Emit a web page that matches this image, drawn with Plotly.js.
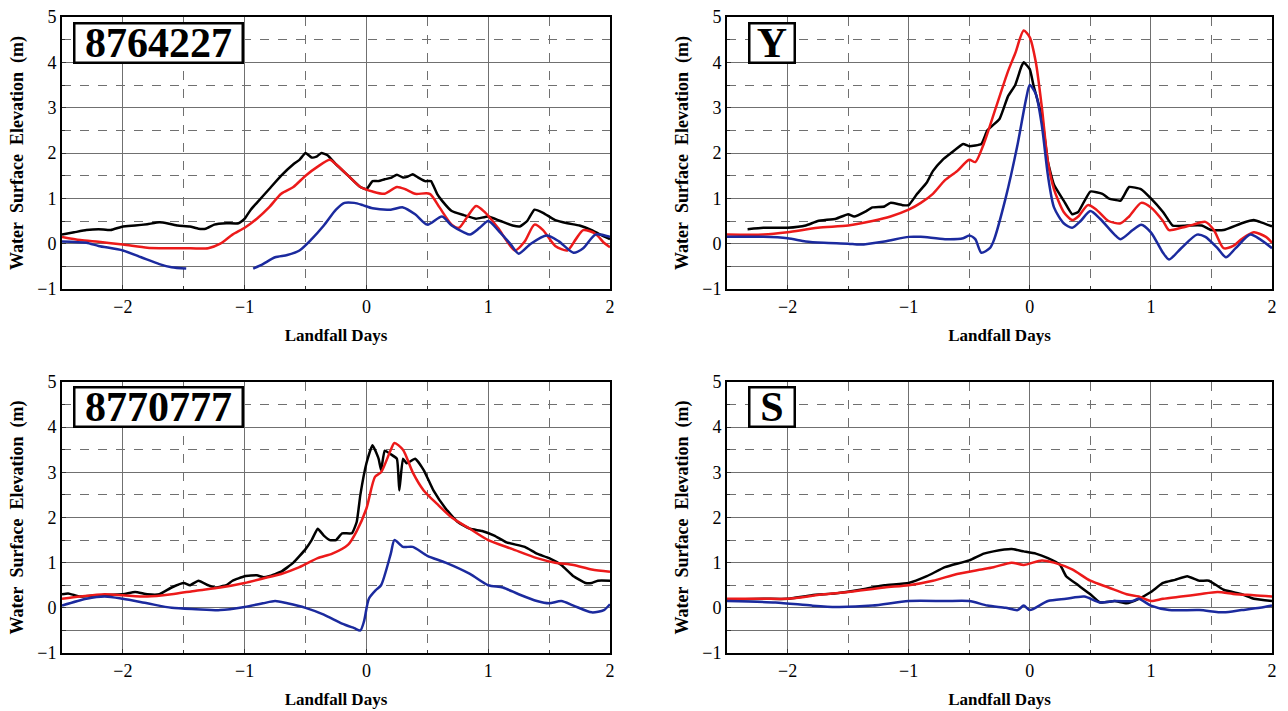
<!DOCTYPE html>
<html>
<head>
<meta charset="utf-8">
<script src="https://cdn.plot.ly/plotly-3.0.1.min.js"></script>
<style>html,body{margin:0;padding:0;background:#fff;}#chart{width:1288px;height:711px;}</style>
</head>
<body>
<div id="chart"></div>
<script>
// ---------- Panel labels ----------
const panelLabels = ["8764227", "Y", "8770777", "S"];

// ---------- Panel 1: 8764227 ----------
const p1BlackX = [-2.5,-2.4,-2.3,-2.2,-2.1,-2.0,-1.9,-1.8,-1.7,-1.62,-1.55,-1.45,-1.38,-1.32,-1.25,-1.15,-1.05,-1.0,-0.95,-0.9,-0.8,-0.7,-0.6,-0.55,-0.5,-0.45,-0.41,-0.37,-0.32,-0.25,-0.15,-0.05,0.0,0.05,0.1,0.15,0.2,0.25,0.3,0.34,0.38,0.43,0.48,0.53,0.58,0.62,0.7,0.8,0.9,1.0,1.1,1.2,1.26,1.32,1.38,1.45,1.55,1.65,1.75,1.85,1.92,2.0];
const p1Black  = [0.2,0.25,0.3,0.32,0.3,0.38,0.4,0.43,0.47,0.44,0.4,0.38,0.33,0.33,0.42,0.45,0.45,0.55,0.75,0.9,1.2,1.5,1.75,1.85,2.0,1.9,1.92,2.0,1.95,1.75,1.5,1.25,1.2,1.38,1.38,1.42,1.45,1.52,1.46,1.48,1.53,1.45,1.38,1.38,1.1,0.95,0.72,0.63,0.55,0.6,0.5,0.4,0.38,0.5,0.75,0.68,0.52,0.45,0.4,0.3,0.2,0.1];
const p1RedX = [-2.5,-2.35,-2.2,-2.0,-1.8,-1.7,-1.5,-1.3,-1.2,-1.1,-1.0,-0.9,-0.8,-0.7,-0.6,-0.5,-0.4,-0.3,-0.25,-0.15,-0.05,0.05,0.15,0.25,0.32,0.4,0.52,0.6,0.7,0.76,0.83,0.9,0.97,1.08,1.22,1.3,1.38,1.45,1.55,1.65,1.72,1.78,1.88,1.95,2.0];
const p1Red  = [0.15,0.08,0.04,-0.02,-0.09,-0.1,-0.1,-0.1,0.0,0.2,0.35,0.55,0.8,1.1,1.25,1.5,1.7,1.85,1.75,1.5,1.25,1.15,1.1,1.25,1.2,1.1,1.1,0.8,0.42,0.35,0.6,0.83,0.7,0.35,-0.15,0.05,0.42,0.3,-0.05,-0.15,0.1,0.3,0.22,0.02,-0.08];
const p1BlueX = [-2.5,-2.3,-2.2,-2.0,-1.85,-1.7,-1.6,-1.48,-1.2,-0.93,-0.85,-0.75,-0.65,-0.55,-0.45,-0.35,-0.25,-0.18,-0.1,-0.03,0.05,0.2,0.3,0.4,0.5,0.62,0.7,0.8,0.85,0.93,1.0,1.08,1.18,1.25,1.35,1.48,1.58,1.7,1.78,1.88,2.0];
const p1Blue  = [0.05,0.02,-0.05,-0.15,-0.3,-0.45,-0.52,-0.55,null,-0.55,-0.45,-0.3,-0.25,-0.15,0.1,0.4,0.75,0.9,0.9,0.85,0.78,0.75,0.8,0.65,0.42,0.6,0.4,0.25,0.2,0.35,0.5,0.3,0.0,-0.22,0.0,0.18,0.05,-0.2,-0.1,0.2,0.15];

// ---------- Panel 2: Y ----------
const p2BlackX = [-2.33,-2.2,-2.0,-1.85,-1.75,-1.6,-1.5,-1.45,-1.35,-1.3,-1.2,-1.15,-1.05,-1.0,-0.93,-0.85,-0.8,-0.72,-0.65,-0.55,-0.5,-0.4,-0.35,-0.25,-0.18,-0.12,-0.07,-0.05,0.0,0.03,0.1,0.15,0.2,0.28,0.35,0.4,0.5,0.6,0.65,0.75,0.82,0.92,1.0,1.1,1.18,1.3,1.42,1.5,1.6,1.75,1.85,1.9,2.0];
const p2Black  = [0.32,0.35,0.35,0.4,0.5,0.55,0.65,0.6,0.72,0.8,0.82,0.9,0.85,0.85,1.1,1.35,1.6,1.85,2.0,2.2,2.15,2.2,2.5,2.75,3.25,3.5,3.9,4.0,3.85,3.5,2.8,1.8,1.3,0.95,0.65,0.7,1.15,1.1,1.0,0.95,1.25,1.2,1.0,0.7,0.4,0.4,0.4,0.3,0.3,0.45,0.52,0.48,0.38];
const p2RedX = [-2.5,-2.2,-2.0,-1.75,-1.5,-1.3,-1.15,-1.0,-0.9,-0.8,-0.7,-0.6,-0.5,-0.45,-0.38,-0.28,-0.18,-0.12,-0.05,0.0,0.05,0.1,0.15,0.2,0.28,0.35,0.4,0.48,0.55,0.65,0.75,0.82,0.92,1.0,1.1,1.15,1.25,1.35,1.45,1.52,1.6,1.68,1.75,1.85,1.95,2.0];
const p2Red  = [0.2,0.2,0.25,0.35,0.4,0.5,0.6,0.75,0.9,1.1,1.4,1.6,1.85,1.8,2.2,3.0,3.8,4.2,4.7,4.55,4.0,3.0,1.8,1.2,0.7,0.52,0.6,0.85,0.75,0.5,0.45,0.6,0.9,0.8,0.5,0.3,0.35,0.42,0.48,0.3,-0.1,-0.05,0.1,0.25,0.15,0.02];
const p2BlueX = [-2.5,-2.2,-2.0,-1.85,-1.7,-1.5,-1.4,-1.2,-1.0,-0.9,-0.7,-0.55,-0.5,-0.45,-0.4,-0.33,-0.3,-0.2,-0.1,-0.03,0.0,0.05,0.1,0.15,0.2,0.28,0.35,0.42,0.5,0.58,0.7,0.75,0.85,0.92,1.0,1.1,1.15,1.25,1.38,1.45,1.55,1.62,1.7,1.82,1.9,2.0];
const p2Blue  = [0.15,0.15,0.12,0.05,0.02,0.0,-0.02,0.05,0.15,0.15,0.1,0.12,0.18,0.1,-0.2,-0.1,0.05,1.0,2.2,3.2,3.5,3.3,2.6,1.5,0.8,0.45,0.35,0.5,0.72,0.55,0.2,0.1,0.3,0.42,0.25,-0.2,-0.35,-0.1,0.2,0.15,-0.1,-0.3,-0.1,0.2,0.1,-0.1];

// ---------- Panel 3: 8770777 ----------
const p3BlackX = [-2.5,-2.45,-2.35,-2.2,-2.0,-1.9,-1.8,-1.7,-1.6,-1.5,-1.45,-1.38,-1.3,-1.25,-1.15,-1.1,-1.0,-0.9,-0.85,-0.8,-0.7,-0.6,-0.5,-0.45,-0.4,-0.35,-0.3,-0.25,-0.2,-0.12,-0.08,-0.05,0.0,0.05,0.1,0.12,0.15,0.2,0.25,0.27,0.3,0.33,0.4,0.47,0.55,0.65,0.75,0.85,0.95,1.05,1.15,1.3,1.4,1.5,1.6,1.7,1.8,1.85,1.9,2.0];
const p3Black  = [0.3,0.32,0.25,0.28,0.3,0.35,0.3,0.3,0.45,0.55,0.5,0.6,0.5,0.45,0.5,0.6,0.7,0.72,0.68,0.7,0.8,1.0,1.3,1.5,1.75,1.6,1.5,1.5,1.65,1.65,1.9,2.5,3.2,3.6,3.3,3.05,3.48,3.4,3.3,2.6,3.3,3.2,3.3,3.05,2.6,2.2,1.9,1.75,1.7,1.6,1.45,1.35,1.2,1.1,0.95,0.7,0.55,0.55,0.6,0.6];
const p3RedX = [-2.5,-2.35,-2.15,-2.0,-1.8,-1.6,-1.4,-1.2,-1.0,-0.85,-0.7,-0.55,-0.4,-0.28,-0.15,-0.08,0.0,0.07,0.12,0.2,0.23,0.3,0.38,0.47,0.58,0.7,0.85,1.0,1.2,1.4,1.55,1.7,1.85,2.0];
const p3Red  = [0.2,0.25,0.3,0.28,0.25,0.3,0.38,0.45,0.55,0.65,0.75,0.9,1.1,1.2,1.4,1.7,2.2,2.9,3.0,3.5,3.65,3.5,3.0,2.6,2.3,2.0,1.75,1.5,1.3,1.1,1.0,0.95,0.85,0.8];
const p3BlueX = [-2.5,-2.3,-2.15,-2.0,-1.8,-1.6,-1.4,-1.2,-1.0,-0.85,-0.75,-0.65,-0.5,-0.35,-0.2,-0.1,-0.05,-0.02,0.02,0.08,0.12,0.2,0.23,0.3,0.38,0.5,0.65,0.85,1.0,1.12,1.25,1.4,1.5,1.6,1.7,1.85,1.95,2.0];
const p3Blue  = [0.05,0.2,0.25,0.2,0.1,0.0,-0.03,-0.05,0.02,0.1,0.15,0.1,0.0,-0.15,-0.35,-0.45,-0.5,-0.3,0.2,0.4,0.5,1.2,1.5,1.35,1.35,1.15,1.0,0.75,0.5,0.45,0.3,0.15,0.1,0.15,0.05,-0.1,-0.05,0.08];

// ---------- Panel 4: S ----------
const p4BlackX = [-2.5,-2.2,-2.0,-1.8,-1.6,-1.4,-1.2,-1.0,-0.85,-0.7,-0.5,-0.38,-0.3,-0.15,-0.05,0.05,0.15,0.25,0.3,0.4,0.5,0.58,0.7,0.8,0.9,1.0,1.1,1.2,1.3,1.4,1.48,1.6,1.75,1.85,2.0];
const p4Black  = [0.18,0.2,0.2,0.28,0.32,0.4,0.5,0.55,0.7,0.9,1.05,1.2,1.25,1.3,1.25,1.2,1.1,0.95,0.7,0.5,0.3,0.12,0.15,0.1,0.2,0.35,0.55,0.62,0.7,0.6,0.6,0.4,0.3,0.2,0.15];
const p4RedX = [-2.5,-2.2,-2.0,-1.7,-1.5,-1.2,-1.0,-0.8,-0.6,-0.4,-0.3,-0.15,-0.05,0.1,0.2,0.35,0.5,0.65,0.8,0.9,1.0,1.1,1.25,1.4,1.55,1.7,1.85,2.0];
const p4Red  = [0.2,0.2,0.2,0.3,0.35,0.45,0.5,0.6,0.75,0.85,0.9,1.0,0.95,1.05,1.0,0.85,0.6,0.45,0.3,0.25,0.15,0.2,0.25,0.3,0.35,0.3,0.28,0.25];
const p4BlueX = [-2.5,-2.1,-1.8,-1.6,-1.3,-1.0,-0.7,-0.5,-0.35,-0.2,-0.1,-0.05,0.0,0.15,0.3,0.45,0.58,0.7,0.85,0.9,1.0,1.15,1.4,1.6,1.75,1.9,2.0];
const p4Blue  = [0.15,0.12,0.05,0.02,0.05,0.15,0.15,0.15,0.05,0.0,-0.05,0.05,-0.05,0.15,0.2,0.25,0.12,0.15,0.15,0.2,0.05,-0.05,-0.05,-0.1,-0.05,0.0,0.05];

// ---------- Axis ticks ----------
const xTickVals = [-2, -1, 0, 1, 2];
const xTickText = ["\u22122", "\u22121", "0", "1", "2"];
const xMinorVals = [-1.5, -0.5, 0.5, 1.5];
const yTickVals = [-1, -0.5, 0, 1, 2, 3, 4, 5];
const yTickText = ["\u22121", "", "0", "1", "2", "3", "4", "5"];
const yMinorVals = [0.5, 1.5, 2.5, 3.5, 4.5];

const colBlack = "#000000", colRed = "#ec1a1a", colBlue = "#1b2a9e";

const panels = [
  {bx: p1BlackX, b: p1Black, rx: p1RedX, r: p1Red, ux: p1BlueX, u: p1Blue},
  {bx: p2BlackX, b: p2Black, rx: p2RedX, r: p2Red, ux: p2BlueX, u: p2Blue},
  {bx: p3BlackX, b: p3Black, rx: p3RedX, r: p3Red, ux: p3BlueX, u: p3Blue},
  {bx: p4BlackX, b: p4Black, rx: p4RedX, r: p4Red, ux: p4BlueX, u: p4Blue}
];

const W = 1288, H = 711;
const xDomPx = [[62, 610], [727, 1272], [62, 610], [727, 1272]];
const yDomPx = [[17, 289], [17, 289], [382, 653], [382, 653]];
// label boxes: left, top, width, height (px)
const boxPx = [[73, 22, 166, 37], [748, 22, 43, 37], [73, 386, 166, 37], [748, 386, 43, 37]];

const serif = "Liberation Serif, Times New Roman, serif";
const traces = [];
const layout = {
  width: W, height: H,
  margin: {l: 0, r: 0, t: 0, b: 0},
  paper_bgcolor: "#fff", plot_bgcolor: "#fff",
  showlegend: false,
  font: {family: serif, color: "#000", size: 18},
  annotations: []
};

panels.forEach((p, i) => {
  const n = i + 1;
  const xa = n === 1 ? "x" : "x" + n;
  const ya = n === 1 ? "y" : "y" + n;
  const common = {mode: "lines", xaxis: xa, yaxis: ya, hoverinfo: "skip", connectgaps: false};
  traces.push(Object.assign({x: p.bx, y: p.b, line: {color: colBlack, width: 2.5, shape: "spline", smoothing: 0.4}}, common));
  traces.push(Object.assign({x: p.rx, y: p.r, line: {color: colRed, width: 2.5, shape: "spline", smoothing: 0.7}}, common));
  traces.push(Object.assign({x: p.ux, y: p.u, line: {color: colBlue, width: 2.5, shape: "spline", smoothing: 0.7}}, common));

  const xKey = n === 1 ? "xaxis" : "xaxis" + n;
  const yKey = n === 1 ? "yaxis" : "yaxis" + n;
  layout[xKey] = {
    domain: [xDomPx[i][0] / W, xDomPx[i][1] / W],
    anchor: ya, range: [-2.5, 2], fixedrange: true,
    tickmode: "array", tickvals: xTickVals, ticktext: xTickText,
    tickfont: {family: serif, size: 18, color: "#000"},
    ticks: "inside", ticklen: 4, tickcolor: "#333",
    showgrid: true, gridcolor: "#707070", gridwidth: 1,
    minor: {tickmode: "array", tickvals: xMinorVals, showgrid: true, griddash: "dash", gridcolor: "#707070", gridwidth: 1, ticks: "inside", ticklen: 3},
    showline: true, linecolor: "#000", linewidth: 2, mirror: true, zeroline: false,
    title: {text: "Landfall Days", font: {family: serif, size: 17, color: "#000", weight: "bold"}, standoff: 14}
  };
  layout[yKey] = {
    domain: [1 - yDomPx[i][1] / H, 1 - yDomPx[i][0] / H],
    anchor: xa, range: [-1, 5], fixedrange: true,
    tickmode: "array", tickvals: yTickVals, ticktext: yTickText,
    tickfont: {family: serif, size: 18, color: "#000"},
    ticks: "inside", ticklen: 4, tickcolor: "#333",
    showgrid: true, gridcolor: "#707070", gridwidth: 1,
    minor: {tickmode: "array", tickvals: yMinorVals, showgrid: true, griddash: "dash", gridcolor: "#707070", gridwidth: 1, ticks: "inside", ticklen: 3},
    showline: true, linecolor: "#000", linewidth: 2, mirror: true, zeroline: false,
    title: {text: "Water\u00a0\u00a0Surface\u00a0\u00a0Elevation\u00a0\u00a0(m)", font: {family: serif, size: 18, color: "#000", weight: "bold"}, standoff: 9}
  };
  layout.annotations.push({
    xref: "paper", yref: "paper",
    x: boxPx[i][0] / W, y: 1 - boxPx[i][1] / H,
    xanchor: "left", yanchor: "top",
    width: boxPx[i][2], height: boxPx[i][3], align: "center", valign: "middle",
    text: "<b>" + panelLabels[i] + "</b>",
    showarrow: false,
    font: {family: serif, size: 42, color: "#000"},
    bgcolor: "#fff", bordercolor: "#000", borderwidth: 2.5, borderpad: 0
  });
});

Plotly.newPlot("chart", traces, layout, {staticPlot: true, displayModeBar: false});
</script>
</body>
</html>
